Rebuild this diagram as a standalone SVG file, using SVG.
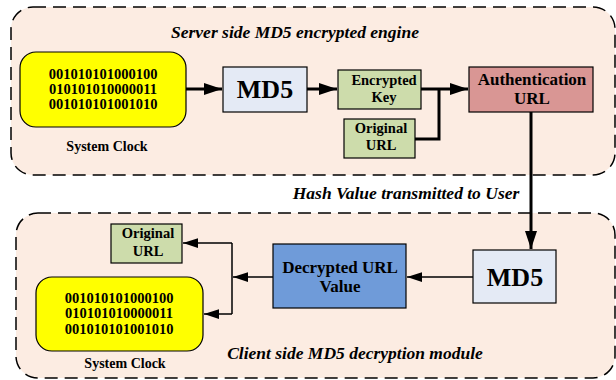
<svg xmlns="http://www.w3.org/2000/svg" width="616" height="380" viewBox="0 0 616 380">
<style>
.cont{fill:#fcece2;stroke:#000;stroke-width:1.5;stroke-dasharray:13,7}
.box{stroke:#000;stroke-width:1.2}
.t{font-family:"Liberation Serif",serif;font-weight:bold;fill:#000;text-anchor:middle}
.ti{font-family:"Liberation Serif",serif;font-weight:bold;font-style:italic;fill:#000;text-anchor:middle;font-size:17.5px}
.bin{font-size:14.5px}
.sm{font-size:14.5px}
.md{font-size:17px}
.big{font-size:26px}
.thick{fill:none;stroke:#000;stroke-width:3}
.thin{fill:none;stroke:#000;stroke-width:1.5}
</style>
<defs>
<marker id="ah" viewBox="0 0 10 10" refX="10" refY="5" markerWidth="6" markerHeight="4" markerUnits="strokeWidth" orient="auto" preserveAspectRatio="none"><path d="M0,0L10,5L0,10z" fill="#000"/></marker>
<marker id="ahs" viewBox="0 0 10 10" refX="10" refY="5" markerWidth="10" markerHeight="6.5" markerUnits="strokeWidth" orient="auto" preserveAspectRatio="none"><path d="M0,0L10,5L0,10z" fill="#000"/></marker>
</defs>
<g id="server">
<rect class="cont" x="11" y="7" width="604" height="168" rx="22"/>
<text class="ti" x="295" y="38">Server side MD5 encrypted engine</text>
</g>
<g id="client">
<rect class="cont" x="16" y="213" width="599" height="165" rx="22"/>
<text class="ti" x="355" y="359">Client side MD5 decryption module</text>
</g>
<text class="ti" x="406" y="199">Hash Value transmitted to User</text>
<g id="clock1">
<rect class="box" x="20" y="52" width="166" height="75" rx="16" fill="#ffff00"/>
<text class="t bin" x="103" y="79">001010101000100</text>
<text class="t bin" x="103" y="94">010101010000011</text>
<text class="t bin" x="103" y="109">001010101001010</text>
<text class="t" x="107" y="151" font-size="14">System Clock</text>
</g>
<g id="md5a">
<rect class="box" x="223" y="67" width="84" height="45" fill="#e4eaf5"/>
<text class="t big" x="265" y="98">MD5</text>
</g>
<g id="enckey">
<rect class="box" x="338" y="70" width="83" height="39" fill="#cddcab"/>
<text class="t sm" x="384" y="85">Encrypted</text>
<text class="t sm" x="384" y="102">Key</text>
</g>
<g id="origurl1">
<rect class="box" x="344" y="119" width="71" height="39" fill="#cddcab"/>
<text class="t sm" x="381" y="133">Original</text>
<text class="t sm" x="381" y="150">URL</text>
</g>
<g id="authurl">
<rect class="box" x="469" y="67" width="124" height="45" fill="#d99694"/>
<text class="t md" x="532" y="85">Authentication</text>
<text class="t md" x="532" y="104">URL</text>
</g>
<g id="md5b">
<rect class="box" x="473" y="250" width="83" height="53" fill="#e4eaf5"/>
<text class="t big" x="515" y="286">MD5</text>
</g>
<g id="decurl">
<rect class="box" x="273" y="244" width="133" height="64" fill="#6f9bd9"/>
<text class="t md" x="340" y="273">Decrypted URL</text>
<text class="t md" x="340" y="292">Value</text>
</g>
<g id="origurl2">
<rect class="box" x="111" y="224" width="71" height="39" fill="#cddcab"/>
<text class="t sm" x="148" y="238">Original</text>
<text class="t sm" x="148" y="256">URL</text>
</g>
<g id="clock2">
<rect class="box" x="36" y="277" width="167" height="74" rx="16" fill="#ffff00"/>
<text class="t bin" x="119" y="303">001010101000100</text>
<text class="t bin" x="119" y="318">010101010000011</text>
<text class="t bin" x="119" y="334">001010101001010</text>
<text class="t" x="125" y="368" font-size="14">System Clock</text>
</g>
<g id="connectors">
<path class="thick" d="M186,89H222" marker-end="url(#ah)"/>
<path class="thick" d="M307,89H337" marker-end="url(#ah)"/>
<path class="thick" d="M421,89H468" marker-end="url(#ah)"/>
<path class="thick" d="M415,139H439V89"/>
<path class="thick" d="M531,112V249" marker-end="url(#ah)"/>
<path class="thin" d="M473,277H407" marker-end="url(#ahs)"/>
<path class="thin" d="M273,277H233" marker-end="url(#ahs)"/>
<path class="thin" d="M232,243V314"/>
<path class="thin" d="M232,243H183" marker-end="url(#ahs)"/>
<path class="thin" d="M232,314H204" marker-end="url(#ahs)"/>
</g>
</svg>
